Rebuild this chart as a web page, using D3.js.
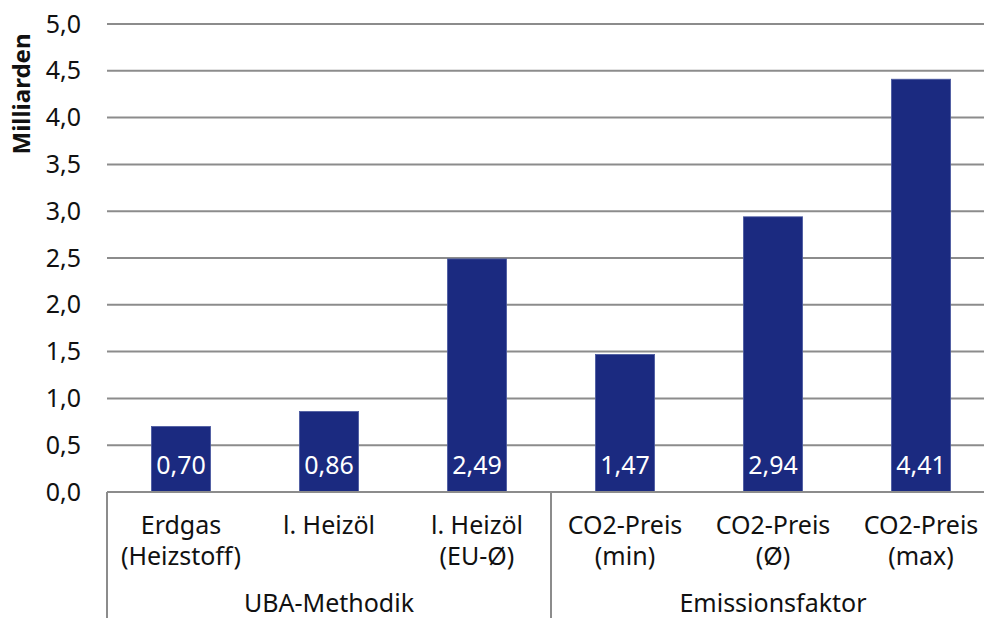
<!DOCTYPE html>
<html>
<head>
<meta charset="utf-8">
<script src="https://cdn.jsdelivr.net/npm/d3@7"></script>
<style>
  html, body { margin: 0; padding: 0; background: #ffffff; }
  svg { display: block; }
  text { font-family: "Noto Sans", "DejaVu Sans", sans-serif; }
</style>
</head>
<body>
<svg id="chart" width="984" height="618"></svg>
<script>
// Kosten in Milliarden je Berechnungsansatz
const categoryLines = [
  ["Erdgas", "(Heizstoff)"],
  ["l. Heizöl"],
  ["l. Heizöl", "(EU-Ø)"],
  ["CO2-Preis", "(min)"],
  ["CO2-Preis", "(Ø)"],
  ["CO2-Preis", "(max)"]
];
const values = [0.70, 0.86, 2.49, 1.47, 2.94, 4.41];
const groups = ["UBA-Methodik", "Emissionsfaktor"];
const groupSizes = [3, 3];
const yTicks = [0, 0.5, 1, 1.5, 2, 2.5, 3, 3.5, 4, 4.5, 5];
const yTitle = "Milliarden";

const de = d3.formatLocale({ decimal: ",", thousands: ".", grouping: [3], currency: ["", " €"] });
const fmtTick = de.format(".1f");
const fmtValue = de.format(".2f");

const svg = d3.select("#chart");
const plotLeft = 107, plotRight = 995, plotTop = 24, plotBottom = 492;
const fontSize = 25;

const y = d3.scaleLinear().domain([0, 5]).range([plotBottom, plotTop]);
const x = d3.scaleBand()
  .domain(d3.range(values.length))
  .range([plotLeft, plotRight])
  .paddingInner(0.6)
  .paddingOuter(0.3);

// horizontal gridlines
svg.append("g")
  .selectAll("line")
  .data(yTicks.filter(t => t > 0))
  .join("line")
  .attr("x1", plotLeft).attr("x2", plotRight)
  .attr("y1", d => y(d)).attr("y2", d => y(d))
  .attr("stroke", "#8c8c8c")
  .attr("stroke-width", 2);

// y axis labels
const yAxis = d3.axisLeft(y).tickValues(yTicks).tickFormat(fmtTick).tickSize(0).tickPadding(26);
const yg = svg.append("g").attr("transform", `translate(${plotLeft},0)`).call(yAxis);
yg.select(".domain").remove();
yg.selectAll("text")
  .attr("font-size", fontSize)
  .attr("fill", "#111")
  .style("font-family", "'Noto Sans', sans-serif");

// y title
svg.append("text")
  .attr("transform", `translate(30,94) rotate(-90)`)
  .attr("text-anchor", "middle")
  .attr("font-size", 24)
  .attr("font-weight", "bold")
  .attr("fill", "#111")
  .text(yTitle);

// bars
svg.append("g")
  .selectAll("rect")
  .data(values)
  .join("rect")
  .attr("x", (d, i) => x(i))
  .attr("width", x.bandwidth())
  .attr("y", d => y(d))
  .attr("height", d => y(0) - y(d))
  .attr("fill", "#1b2a80")
  .attr("stroke", "#4b5aa0")
  .attr("stroke-width", 0.8);

// value labels inside bars
svg.append("g")
  .selectAll("text")
  .data(values)
  .join("text")
  .attr("x", (d, i) => x(i) + x.bandwidth() / 2)
  .attr("y", y(0) - 18)
  .attr("text-anchor", "middle")
  .attr("font-size", fontSize)
  .attr("fill", "#ffffff")
  .text(d => fmtValue(d));

// category axis line
svg.append("line")
  .attr("x1", plotLeft).attr("x2", plotRight)
  .attr("y1", plotBottom).attr("y2", plotBottom)
  .attr("stroke", "#8c8c8c").attr("stroke-width", 2);

// group separators
const step = x.step();
const boundaries = [plotLeft];
let acc = 0;
groupSizes.forEach(n => { acc += n; boundaries.push(plotLeft + acc * step); });
svg.append("g")
  .selectAll("line")
  .data(boundaries)
  .join("line")
  .attr("x1", d => d).attr("x2", d => d)
  .attr("y1", plotBottom).attr("y2", 618)
  .attr("stroke", "#8c8c8c").attr("stroke-width", 2);

// category labels
const catG = svg.append("g")
  .selectAll("text")
  .data(categoryLines)
  .join("text")
  .attr("text-anchor", "middle")
  .attr("font-size", fontSize)
  .attr("fill", "#111");
catG.each(function(lines, i) {
  const cx = x(i) + x.bandwidth() / 2;
  d3.select(this).selectAll("tspan")
    .data(lines)
    .join("tspan")
    .attr("x", cx)
    .attr("y", (l, j) => 534 + j * 31)
    .text(l => l);
});

// group labels
svg.append("g")
  .selectAll("text")
  .data(groups)
  .join("text")
  .attr("x", (g, i) => (boundaries[i] + boundaries[i + 1]) / 2)
  .attr("y", 612)
  .attr("text-anchor", "middle")
  .attr("font-size", fontSize)
  .attr("fill", "#111")
  .text(g => g);
</script>
</body>
</html>
